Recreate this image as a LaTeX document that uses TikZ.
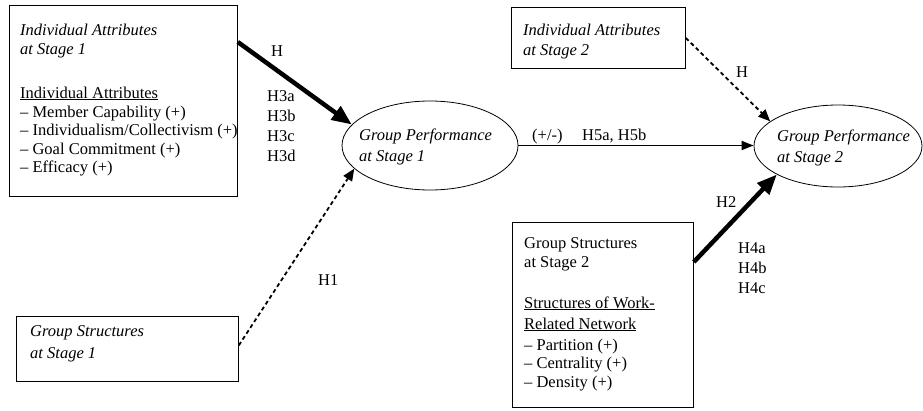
\documentclass[tikz,border=0pt]{standalone}
\usepackage{fontspec}
\setmainfont{Liberation Serif}
\usetikzlibrary{shapes.geometric,arrows.meta}
\begin{document}
\begin{tikzpicture}[x=1pt,y=-1pt,
  box/.style={draw, line width=0.8pt, inner sep=0, anchor=north west},
  oval/.style={draw, ellipse, line width=0.8pt, inner sep=0},
  txt/.style={anchor=base west, inner sep=0, font=\fontsize{16.5}{19}\selectfont},
  itxt/.style={anchor=base west, inner sep=0, font=\fontsize{16.5}{19}\selectfont\itshape},
  thickarrow/.style={line width=4.5pt, -{Triangle[length=20pt,width=16pt]}},
  dasharrow/.style={line width=1.8pt, dash pattern=on 4pt off 3pt, -{Triangle[length=12pt,width=10pt]}},
  plainarrow/.style={line width=1.8pt, -{Triangle[length=12pt,width=9pt]}}]
\useasboundingbox (0,0) rectangle (923,410);

% Individual Attributes at Stage 1
\node[box, minimum width=228pt, minimum height=191pt] (ia1) at (9,5) {};
\node[itxt] (ia1a) at (20,35) {Individual Attributes};
\node[itxt] (ia1b) at (20,54) {at Stage 1};
\node[txt] (ia1c) at (20,98) {\underline{Individual Attributes}};
\node[txt] (ia1d) at (20,117) {– Member Capability (+)};
\node[txt] (ia1e) at (20,135.5) {– Individualism/Collectivism (+)};
\node[txt] (ia1f) at (20,154) {– Goal Commitment (+)};
\node[txt] (ia1g) at (20,172.5) {– Efficacy (+)};

% Group Structures at Stage 1
\node[box, minimum width=222pt, minimum height=65pt] (gs1) at (16,316) {};
\node[itxt] (gs1a) at (30,336) {Group Structures};
\node[itxt] (gs1b) at (30,358) {at Stage 1};

% Group Performance at Stage 1
\node[oval, minimum width=176pt, minimum height=89pt] (gp1) at (430,145.5) {};
\node[itxt] (gp1a) at (359,140) {Group Performance};
\node[itxt] (gp1b) at (359,161) {at Stage 1};

% Individual Attributes at Stage 2
\node[box, minimum width=174pt, minimum height=61pt] (ia2) at (511,7) {};
\node[itxt] (ia2a) at (523,35) {Individual Attributes};
\node[itxt] (ia2b) at (523,55) {at Stage 2};

% Group Performance at Stage 2
\node[oval, minimum width=168pt, minimum height=82pt] (gp2) at (838,146) {};
\node[itxt] (gp2a) at (777,141) {Group Performance};
\node[itxt] (gp2b) at (777,162) {at Stage 2};

% Group Structures at Stage 2
\node[box, minimum width=181pt, minimum height=185pt] (gs2) at (512,222) {};
\node[txt] (gs2a) at (524,248) {Group Structures};
\node[txt] (gs2b) at (524,267) {at Stage 2};
\node[txt] (gs2c) at (524,308) {\underline{Structures of Work-}};
\node[txt] (gs2d) at (524,329) {\underline{Related Network}};
\node[txt] (gs2e) at (524,350) {– Partition (+)};
\node[txt] (gs2f) at (524,368.5) {– Centrality (+)};
\node[txt] (gs2g) at (524,387) {– Density (+)};

% connectors
\draw[thickarrow] ([yshift=-37pt]ia1.north east) -- (gp1.165);
\draw[dasharrow] ([yshift=3.5pt]gs1.east) -- (gp1.197);
\draw[plainarrow] (gp1.east) -- (gp1.east -| gp2.west);
\draw[dasharrow] (ia2.east) -- (gp2.160);
\draw[thickarrow] ([yshift=-40pt]gs2.north east) -- (gp2.205);

% labels
\node[txt] (lh) at (271,56) {H};
\node[txt] (lh3a) at (267,101) {H3a};
\node[txt] (lh3b) at (267,121) {H3b};
\node[txt] (lh3c) at (267,141) {H3c};
\node[txt] (lh3d) at (267,161) {H3d};
\node[txt] (lh1) at (318,285) {H1};
\node[txt] (lpm) at (532,140.5) {(+/-)};
\node[txt] (lh5) at (582,140.5) {H5a, H5b};
\node[txt] (lhb) at (736,77.5) {H};
\node[txt] (lh2) at (716,207.5) {H2};
\node[txt] (lh4a) at (738,253.5) {H4a};
\node[txt] (lh4b) at (738,273.5) {H4b};
\node[txt] (lh4c) at (738,293.5) {H4c};
\end{tikzpicture}
\end{document}
